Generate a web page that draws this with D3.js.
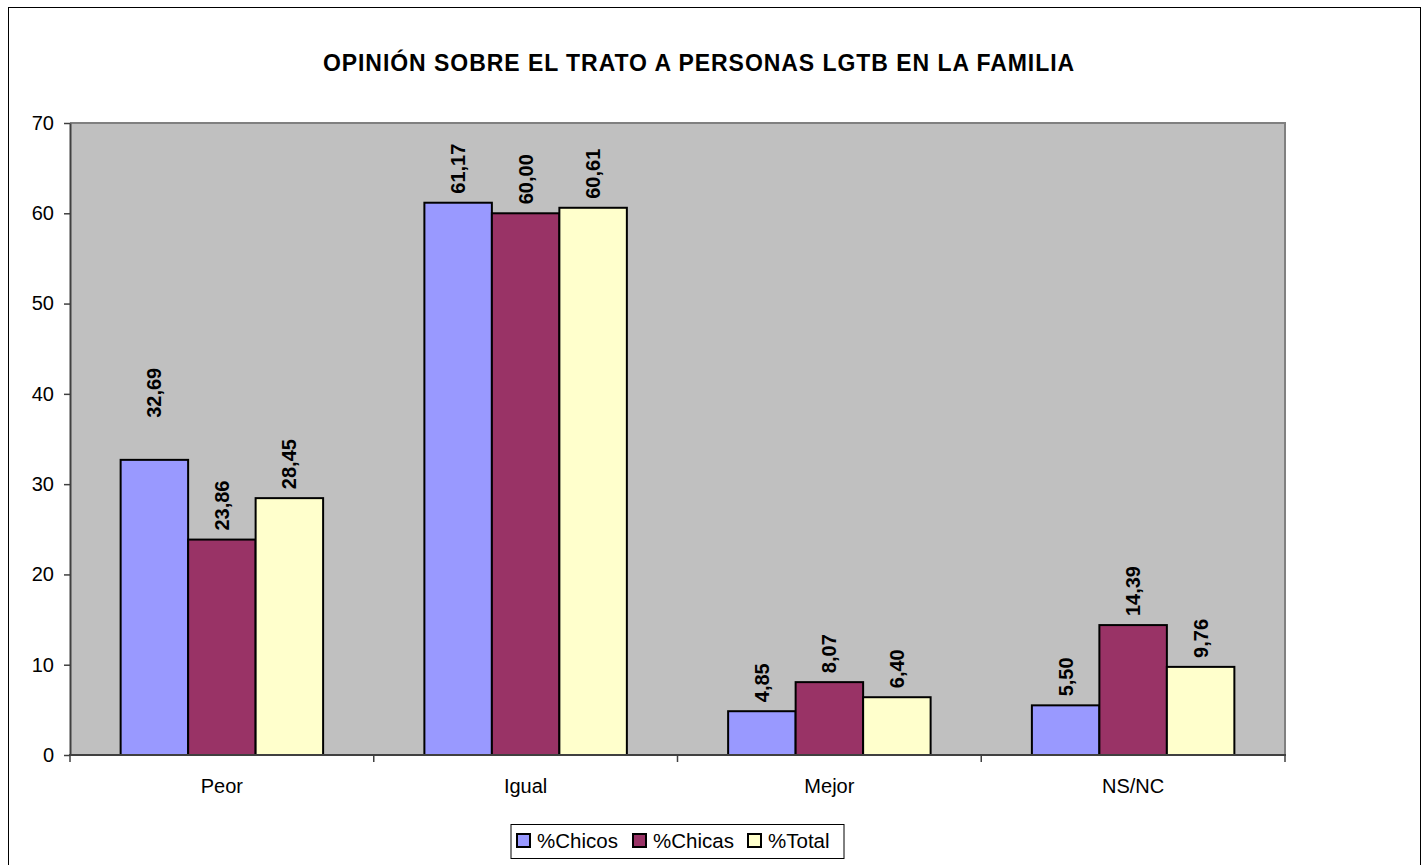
<!DOCTYPE html>
<html lang="en">
<head>
<meta charset="utf-8">
<title>Opinión sobre el trato a personas LGTB en la familia</title>
<script src="https://d3js.org/d3.v7.min.js"></script>
<style>
  body { margin: 0; background: #fff; }
  text { font-family: Arial, "Liberation Sans", sans-serif; fill: #000; }
</style>
</head>
<body>
<svg id="chart" width="1426" height="865"></svg>
<script>
// ---------- data ----------
var categories = ["Peor", "Igual", "Mejor", "NS/NC"];
var seriesNames = ["%Chicos", "%Chicas", "%Total"];
var chicos = [32.69, 61.17, 4.85, 5.50];
var chicas = [23.86, 60.00, 8.07, 14.39];
var total  = [28.45, 60.61, 6.40, 9.76];
var yTicks = [0, 10, 20, 30, 40, 50, 60, 70];
var titleText = "OPINIÓN SOBRE EL TRATO A PERSONAS LGTB EN LA FAMILIA";

var seriesValues = [chicos, chicas, total];
var colors = ["#9999FF", "#993366", "#FFFFCC"];

// ---------- canvas ----------
var svg = d3.select("#chart");
var plot = { left: 70, right: 1285, top: 123, bottom: 755 };

// outer frame
svg.append("rect")
  .attr("x", 8.5).attr("y", 7.5)
  .attr("width", 1412).attr("height", 862)
  .attr("fill", "#fff")
  .attr("stroke", "#000").attr("stroke-width", 1);

// title
svg.append("text")
  .attr("x", 699).attr("y", 71)
  .attr("text-anchor", "middle")
  .style("font-size", "23px").style("font-weight", "bold")
  .style("letter-spacing", "0.95px")
  .text(titleText);

// scales
var x = d3.scaleBand().domain(categories).range([plot.left, plot.right]).padding(0);
var xInner = d3.scaleBand().domain(seriesNames)
  .range([x.bandwidth() * 0.1667, x.bandwidth() * 0.8333]).padding(0);
var y = d3.scaleLinear().domain([0, 70]).range([plot.bottom, plot.top]);

// plot background
svg.append("rect")
  .attr("x", plot.left).attr("y", plot.top)
  .attr("width", plot.right - plot.left).attr("height", plot.bottom - plot.top)
  .attr("fill", "#C0C0C0");
// top + right border (grey)
svg.append("path")
  .attr("d", "M" + plot.left + "," + plot.top + "H" + plot.right + "V" + plot.bottom)
  .attr("fill", "none").attr("stroke", "#808080").attr("stroke-width", 2);

// bars
var rows = [];
categories.forEach(function (c, i) {
  seriesNames.forEach(function (s, j) {
    rows.push({ cat: c, series: s, value: seriesValues[j][i], color: colors[j] });
  });
});

var groups = svg.append("g");
groups.selectAll("rect.bar")
  .data(rows)
  .enter()
  .append("rect")
  .attr("class", "bar")
  .attr("x", function (d) { return x(d.cat) + xInner(d.series); })
  .attr("y", function (d) { return y(d.value); })
  .attr("width", xInner.bandwidth())
  .attr("height", function (d) { return y(0) - y(d.value); })
  .attr("fill", function (d) { return d.color; })
  .attr("stroke", "#000")
  .attr("stroke-width", 2);

// value labels (rotated, Excel-style)
var extraLift = { "Peor|%Chicos": 33 }; // Excel pushed this one higher
groups.selectAll("text.val")
  .data(rows)
  .enter()
  .append("text")
  .attr("class", "val")
  .attr("transform", function (d) {
    var cx = x(d.cat) + xInner(d.series) + xInner.bandwidth() / 2;
    var lift = 9 + (extraLift[d.cat + "|" + d.series] || 0);
    return "translate(" + cx + "," + (y(d.value) - lift) + ") rotate(-90)";
  })
  .attr("dy", "0.35em")
  .style("font-size", "20px").style("font-weight", "bold")
  .text(function (d) { return d.value.toFixed(2).replace(".", ","); });

// y axis
var yAxis = svg.append("g")
  .attr("transform", "translate(" + plot.left + ",0)")
  .call(d3.axisLeft(y).tickValues(yTicks).tickSize(6).tickPadding(10).tickSizeOuter(0));
yAxis.select(".domain").attr("stroke", "#404040").attr("stroke-width", 2);
yAxis.selectAll(".tick line").attr("stroke", "#404040").attr("stroke-width", 1.5);
yAxis.selectAll(".tick text")
  .style("font-size", "20px")
  .style("font-family", "Arial, 'Liberation Sans', sans-serif")
  .attr("fill", "#000");

// x axis: line, ticks at category boundaries, labels centered
var xAxis = svg.append("g");
xAxis.append("line")
  .attr("x1", plot.left - 1).attr("x2", plot.right + 1)
  .attr("y1", plot.bottom).attr("y2", plot.bottom)
  .attr("stroke", "#404040").attr("stroke-width", 2);
var bounds = categories.map(function (c) { return x(c); }).concat([x.range()[1]]);
xAxis.selectAll("line.xt")
  .data(bounds)
  .enter()
  .append("line")
  .attr("class", "xt")
  .attr("x1", function (d) { return d; }).attr("x2", function (d) { return d; })
  .attr("y1", plot.bottom).attr("y2", plot.bottom + 7)
  .attr("stroke", "#404040").attr("stroke-width", 1.5);
xAxis.selectAll("text.cat")
  .data(categories)
  .enter()
  .append("text")
  .attr("class", "cat")
  .attr("x", function (d) { return x(d) + x.bandwidth() / 2; })
  .attr("y", 793)
  .attr("text-anchor", "middle")
  .style("font-size", "20px")
  .text(function (d) { return d; });

// legend
var legend = svg.append("g");
legend.append("rect")
  .attr("x", 511).attr("y", 824.5)
  .attr("width", 333).attr("height", 34)
  .attr("fill", "#fff").attr("stroke", "#000").attr("stroke-width", 1);
var legendX = [517, 633, 748];
var items = legend.selectAll("g.item")
  .data(seriesNames)
  .enter()
  .append("g")
  .attr("class", "item")
  .attr("transform", function (d, i) { return "translate(" + legendX[i] + ",834)"; });
items.append("rect")
  .attr("width", 13).attr("height", 13)
  .attr("fill", function (d, i) { return colors[i]; })
  .attr("stroke", "#000").attr("stroke-width", 2);
items.append("text")
  .attr("x", 20).attr("y", 14)
  .style("font-size", "20.5px")
  .text(function (d) { return d; });
</script>
</body>
</html>
